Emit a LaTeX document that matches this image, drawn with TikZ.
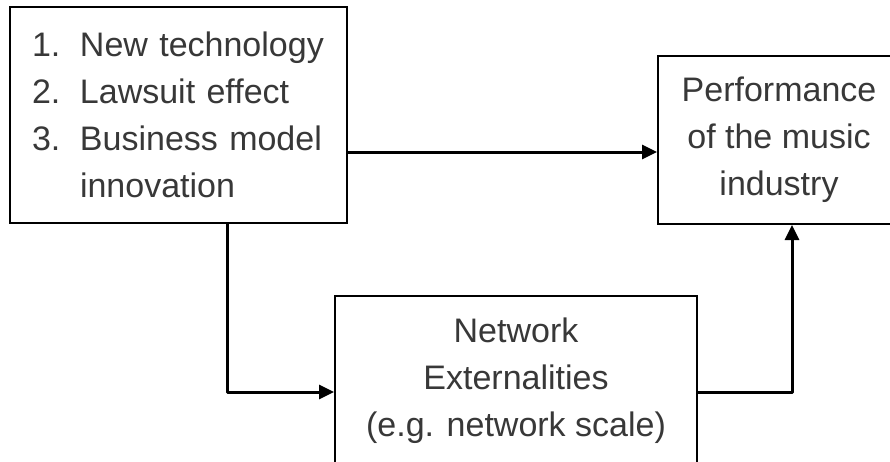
\documentclass[tikz,border=0pt]{standalone}
\usepackage{fontspec}
\setmainfont{Liberation Sans}
\usetikzlibrary{arrows.meta}
\definecolor{txt}{HTML}{383838}
\begin{document}
\begin{tikzpicture}[x=1pt,y=-1pt,
  box/.style={draw=black,line width=2pt,fill=white,text=txt,inner sep=0pt,
    font=\fontsize{34}{47}\selectfont},
  conn/.style={line width=3pt,line join=round,
    -{Triangle[length=15pt,width=14pt]}}]
  \clip (0,0) rectangle (890,461);
  % factor box (left)
  \node[box,minimum width=337pt,minimum height=216pt,text width=293pt,
        align=left,inner xsep=22pt] (A) at (178.5,115)
    {\makebox[48pt][l]{1.}New technology\\
     \makebox[48pt][l]{2.}Lawsuit effect\\
     \makebox[48pt][l]{3.}Business model\\
     \hspace*{48pt}innovation};
  % outcome box (right, partly beyond the page edge)
  \node[box,minimum width=242pt,minimum height=168pt,align=center]
    (P) at (779,140)
    {Performance\\of the music\\industry};
  % mediator box (bottom, partly below the page edge)
  \node[box,minimum width=362pt,minimum height=170pt,align=center]
    (N) at (516,381)
    {Network\\Externalities\\(e.g. network scale)};
  % connectors
  \draw[conn] ([yshift=-37pt]A.east) -- ([yshift=-37pt]A.east -| P.west);
  \draw[conn] ([xshift=48.5pt]A.south) |- ([yshift=-11pt]N.west);
  \draw[conn] ([yshift=-11pt]N.east) -| ([xshift=13pt]P.south);
\end{tikzpicture}
\end{document}
